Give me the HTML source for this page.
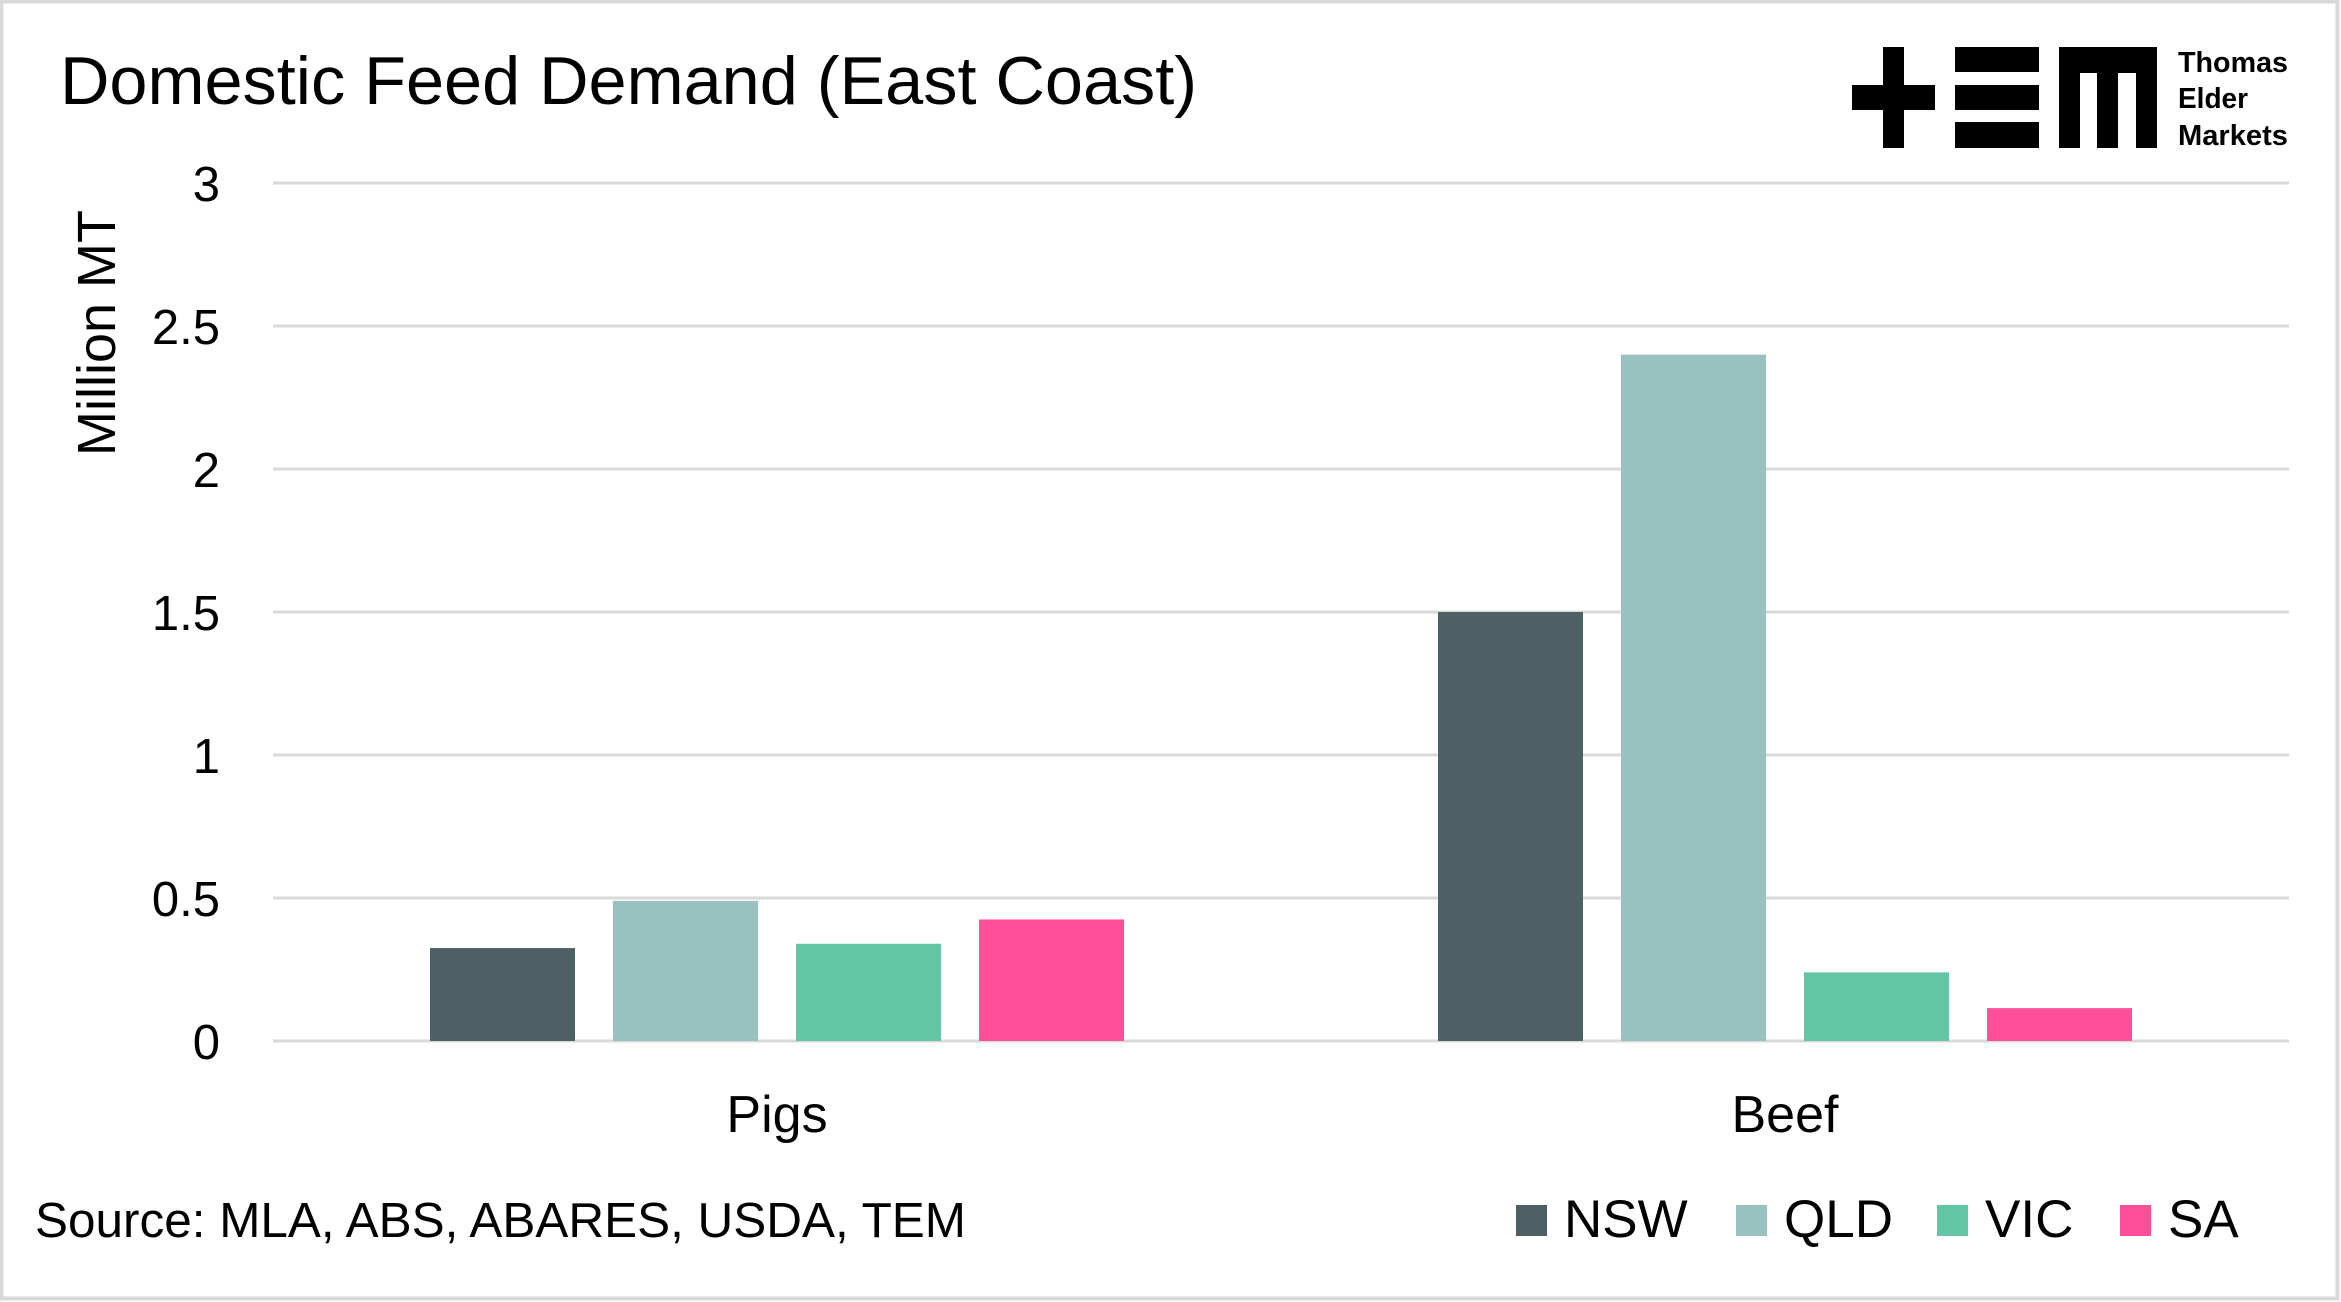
<!DOCTYPE html>
<html><head><meta charset="utf-8"><style>
html,body{margin:0;padding:0;background:#fff;}
svg{display:block;font-family:"Liberation Sans",sans-serif;}
</style></head><body>
<svg id="chart" width="2341" height="1302" viewBox="0 0 2341 1302">
<rect x="1.5" y="1.5" width="2336" height="1297" fill="#fff" stroke="#d9d9d9" stroke-width="4"/>
<text x="60" y="104" font-size="68" textLength="1137" lengthAdjust="spacingAndGlyphs" fill="#000">Domestic Feed Demand (East Coast)</text>
<g>
<rect x="1852" y="85" width="83" height="25" fill="#000"/>
<rect x="1883" y="47" width="21" height="101" fill="#000"/>
<rect x="1955" y="47" width="84" height="25" fill="#000"/>
<rect x="1955" y="85" width="84" height="25" fill="#000"/>
<rect x="1955" y="122" width="84" height="26" fill="#000"/>
<rect x="2059" y="47" width="98" height="26" fill="#000"/>
<rect x="2059" y="47" width="21" height="101" fill="#000"/>
<rect x="2097" y="47" width="21" height="101" fill="#000"/>
<rect x="2136" y="47" width="21" height="101" fill="#000"/>
<text x="2178" y="72" font-size="29" font-weight="bold" fill="#000" textLength="110" lengthAdjust="spacingAndGlyphs">Thomas</text>
<text x="2178" y="108" font-size="29" font-weight="bold" fill="#000" textLength="70" lengthAdjust="spacingAndGlyphs">Elder</text>
<text x="2178" y="145" font-size="29" font-weight="bold" fill="#000" textLength="110" lengthAdjust="spacingAndGlyphs">Markets</text>
</g>
<text transform="translate(115,333) rotate(-90)" text-anchor="middle" font-size="54" fill="#000">Million MT</text>
<g id="grid"></g><g id="bars"></g><g id="labels"></g>
<text x="35" y="1237" font-size="49" fill="#000" textLength="931" lengthAdjust="spacingAndGlyphs">Source: MLA, ABS, ABARES, USDA, TEM</text>
<g id="legend"></g>
</svg>
<script>
const categories = ["Pigs", "Beef"];
const seriesNames = ["NSW", "QLD", "VIC", "SA"];
const seriesNSW = [0.325, 1.5];
const seriesQLD = [0.49, 2.4];
const seriesVIC = [0.34, 0.24];
const seriesSA = [0.425, 0.115];
const yTicks = [0, 0.5, 1, 1.5, 2, 2.5, 3];
const yTickLabels = ["0", "0.5", "1", "1.5", "2", "2.5", "3"];

const colors = ["#4d6063", "#98c1c0", "#64c5a5", "#ff4f98"];
const NS = "http://www.w3.org/2000/svg";
const plotL = 273, plotR = 2289, y0 = 1041, y3 = 183, yMax = 3;
function yScale(v){ return y0 - (v / yMax) * (y0 - y3); }
const catW = (plotR - plotL) / categories.length;
function catCenter(i){ return plotL + catW * (i + 0.5); }
const barW = 145, barStep = 183;
function barX(ci, si){ return catCenter(ci) + (si - (seriesNames.length - 1) / 2) * barStep - barW / 2; }
function mk(tag, attrs, parent){ const e = document.createElementNS(NS, tag); for (const k in attrs) e.setAttribute(k, attrs[k]); parent.appendChild(e); return e; }

const grid = document.getElementById("grid");
const labels = document.getElementById("labels");
yTicks.forEach((t, i) => {
  const y = yScale(t);
  const l = mk("line", {x1: plotL, x2: plotR, y1: y, y2: y, stroke: "#d9d9d9", "stroke-width": 3}, grid);
  
  
  const tx = mk("text", {x: 220, y: y + 18, "text-anchor": "end", "font-size": 49, fill: "#000"}, labels);
  tx.textContent = yTickLabels[i];
  
  
});
categories.forEach((c, i) => {
  const tx = mk("text", {x: catCenter(i), y: 1132, "text-anchor": "middle", "font-size": 52, fill: "#000"}, labels);
  tx.textContent = c;
  
  
});
const series = [seriesNSW, seriesQLD, seriesVIC, seriesSA];
const bars = document.getElementById("bars");
series.forEach((vals, si) => {
  vals.forEach((v, ci) => {
    const r = mk("rect", {x: barX(ci, si), y: yScale(v), width: barW, height: yScale(0) - yScale(v), fill: colors[si]}, bars);
    
    
  });
});
const legend = document.getElementById("legend");
const legX = [1516, 1736, 1937, 2120];
seriesNames.forEach((n, i) => {
  const g = mk("g", {}, legend);
  
  
  mk("rect", {x: legX[i], y: 1205, width: 31, height: 31, fill: colors[i]}, g);
  const t = mk("text", {x: legX[i] + 48, y: 1237, "font-size": 53, fill: "#000"}, g);
  t.textContent = n;
});
</script>
</body></html>
